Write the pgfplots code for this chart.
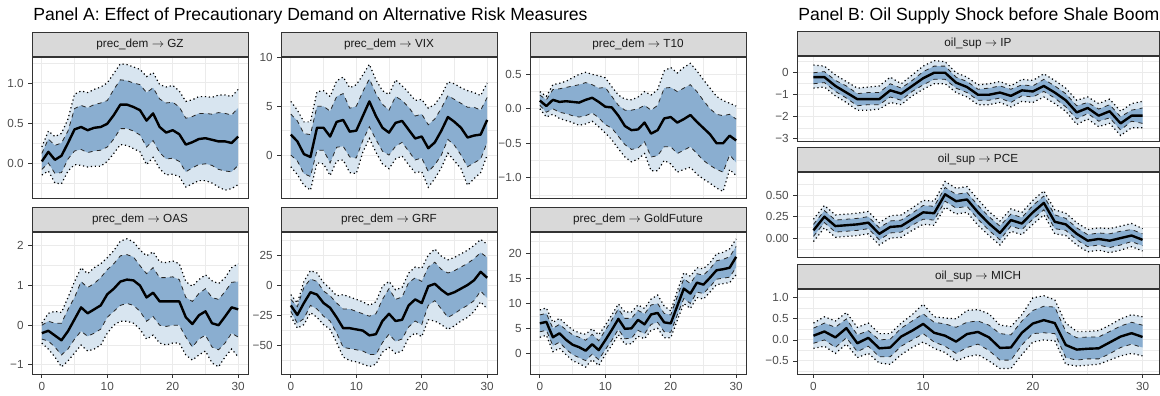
\documentclass[border=0pt]{standalone}
\usepackage{fontspec}
\setmainfont{Liberation Sans}
\usepackage{pgfplots}
\pgfplotsset{compat=1.18}
\usepackage{pgfplotstable}
\usepgfplotslibrary{fillbetween}

\definecolor{gray20}{RGB}{51,51,51}
\definecolor{gray92}{RGB}{235,235,235}
\definecolor{gray85}{RGB}{217,217,217}
\definecolor{gray30}{RGB}{77,77,77}
\definecolor{gray10}{RGB}{26,26,26}
\definecolor{outerblue}{RGB}{216,229,240}
\definecolor{innerblue}{RGB}{138,174,208}

\pgfplotstableread{
t l90 l68 m u68 u90
0 -0.15 -0.08 0.02 0.12 0.20
1 -0.10 0.00 0.14 0.30 0.40
2 -0.25 -0.13 0.04 0.22 0.33
3 -0.26 -0.12 0.09 0.25 0.37
4 -0.10 0.05 0.25 0.40 0.55
5 -0.02 0.15 0.42 0.68 0.86
6 -0.03 0.17 0.45 0.72 0.90
7 -0.05 0.13 0.41 0.69 0.88
8 -0.04 0.15 0.44 0.73 0.92
9 -0.04 0.16 0.45 0.75 0.95
10 0.02 0.20 0.49 0.78 1.00
11 0.12 0.30 0.60 0.92 1.12
12 0.23 0.43 0.73 1.04 1.24
13 0.22 0.43 0.73 1.03 1.23
14 0.18 0.40 0.70 1.00 1.20
15 0.14 0.35 0.66 0.98 1.17
16 -0.02 0.20 0.53 0.88 1.08
17 0.07 0.28 0.62 0.94 1.13
18 -0.07 0.13 0.45 0.80 0.98
19 -0.15 0.05 0.38 0.75 0.95
20 -0.14 0.06 0.41 0.76 0.97
21 -0.17 0.02 0.36 0.70 0.90
22 -0.30 -0.11 0.23 0.56 0.77
23 -0.26 -0.06 0.26 0.58 0.79
24 -0.22 -0.02 0.30 0.62 0.83
25 -0.22 -0.01 0.31 0.62 0.83
26 -0.25 -0.03 0.29 0.61 0.82
27 -0.30 -0.08 0.27 0.63 0.85
28 -0.34 -0.10 0.27 0.62 0.85
29 -0.32 -0.11 0.25 0.60 0.83
30 -0.27 -0.03 0.33 0.69 0.92
}\gz

\pgfplotstableread{
t l90 l68 m u68 u90
0 -1.2 0.0 2.1 4.2 5.5
1 -2.0 -0.6 1.4 3.5 4.6
2 -3.1 -1.9 0.1 2.2 3.4
3 -3.6 -2.2 -0.2 2.1 3.4
4 -0.8 0.5 2.8 5.0 6.5
5 -0.9 0.5 2.8 5.0 6.6
6 -2.1 -0.8 1.9 4.5 6.0
7 -0.6 0.8 3.4 6.0 7.6
8 -0.5 0.9 3.6 6.3 8.0
9 -1.8 -0.2 2.4 4.8 6.9
10 -1.9 -0.3 2.5 5.0 7.2
11 0.3 1.5 4.0 6.5 8.2
12 1.7 2.9 5.5 7.8 9.3
13 0.3 1.6 4.0 6.3 7.7
14 -0.9 0.4 2.8 5.2 6.6
15 -1.4 0.0 2.3 4.6 6.2
16 -0.4 0.9 3.3 6.0 7.7
17 -0.1 1.3 3.5 5.6 7.1
18 -1.0 0.4 2.6 4.9 6.4
19 -1.8 -0.5 1.7 4.0 5.6
20 -1.7 -0.3 1.9 4.2 5.7
21 -3.3 -1.7 0.7 3.1 4.8
22 -2.4 -1.0 1.3 3.7 5.2
23 -1.3 0.0 2.5 4.8 6.1
24 0.2 1.6 3.9 6.1 7.5
25 -0.6 1.0 3.4 5.7 7.3
26 -1.4 0.0 2.8 5.3 6.9
27 -3.1 -1.2 1.8 4.9 6.6
28 -2.4 -0.8 2.0 4.9 6.4
29 -1.8 -0.4 2.1 4.6 6.1
30 0.0 1.3 3.6 5.9 7.4
}\vix

\pgfplotstableread{
t l90 l68 m u68 u90
0 0.00 0.05 0.12 0.20 0.25
1 -0.12 -0.05 0.04 0.13 0.18
2 -0.08 0.00 0.13 0.28 0.35
3 -0.14 -0.05 0.10 0.29 0.37
4 -0.17 -0.07 0.11 0.31 0.40
5 -0.20 -0.10 0.10 0.33 0.45
6 -0.24 -0.12 0.09 0.35 0.50
7 -0.22 -0.10 0.13 0.38 0.53
8 -0.18 -0.06 0.16 0.35 0.50
9 -0.26 -0.13 0.10 0.30 0.48
10 -0.35 -0.23 0.03 0.31 0.45
11 -0.45 -0.28 0.02 0.18 0.32
12 -0.58 -0.40 -0.10 0.05 0.20
13 -0.70 -0.52 -0.25 -0.02 0.14
14 -0.77 -0.59 -0.31 -0.02 0.13
15 -0.73 -0.57 -0.30 0.00 0.17
16 -0.65 -0.48 -0.20 0.05 0.25
17 -0.90 -0.70 -0.36 -0.02 0.20
18 -0.90 -0.68 -0.31 0.05 0.28
19 -0.75 -0.55 -0.14 0.30 0.55
20 -0.80 -0.55 -0.12 0.31 0.60
21 -0.92 -0.65 -0.20 0.25 0.52
22 -0.88 -0.60 -0.15 0.30 0.60
23 -0.85 -0.55 -0.09 0.35 0.66
24 -0.95 -0.65 -0.19 0.25 0.55
25 -1.02 -0.75 -0.28 0.12 0.42
26 -1.08 -0.82 -0.37 0.00 0.30
27 -1.15 -0.88 -0.50 -0.08 0.18
28 -1.20 -0.92 -0.50 -0.10 0.12
29 -0.88 -0.67 -0.39 -0.08 0.08
30 -0.97 -0.78 -0.46 -0.15 0.04
}\tten

\pgfplotstableread{
t l90 l68 m u68 u90
0 -0.45 -0.35 -0.20 0.00 0.05
1 -0.60 -0.40 -0.14 0.10 0.30
2 -0.80 -0.55 -0.26 0.05 0.35
3 -1.05 -0.75 -0.38 0.05 0.32
4 -0.90 -0.60 -0.15 0.40 0.70
5 -0.70 -0.35 0.15 0.70 1.10
6 -0.50 -0.15 0.45 1.10 1.45
7 -0.65 -0.28 0.30 0.95 1.30
8 -0.60 -0.20 0.40 1.05 1.45
9 -0.50 -0.10 0.50 1.20 1.55
10 -0.20 0.20 0.78 1.40 1.70
11 0.00 0.35 0.92 1.55 1.88
12 0.10 0.50 1.10 1.75 2.12
13 0.10 0.55 1.15 1.78 2.18
14 0.05 0.50 1.13 1.72 2.10
15 -0.10 0.35 1.00 1.50 1.90
16 -0.35 0.10 0.70 1.30 1.75
17 -0.25 0.22 0.82 1.45 1.85
18 -0.45 0.00 0.60 1.20 1.60
19 -0.50 -0.03 0.60 1.20 1.58
20 -0.45 0.00 0.60 1.22 1.62
21 -0.45 0.00 0.60 1.15 1.55
22 -0.75 -0.30 0.20 0.70 1.10
23 -0.88 -0.55 0.03 0.60 0.98
24 -0.75 -0.35 0.25 0.80 1.15
25 -0.65 -0.25 0.35 0.92 1.27
26 -0.95 -0.55 0.05 0.70 1.12
27 -1.05 -0.62 0.00 0.65 1.05
28 -0.80 -0.45 0.22 0.85 1.20
29 -0.60 -0.20 0.45 1.08 1.45
30 -0.80 -0.30 0.40 1.10 1.55
}\oas

\pgfplotstableread{
t l90 l68 m u68 u90
0 -26 -22 -17 -12 -8
1 -36 -32 -25 -18 -15
2 -33 -28 -15 -2 3
3 -23 -17 -6 5 12
4 -27 -20 -8 3 10
5 -33 -26 -15 -5 2
6 -37 -30 -19 -9 -3
7 -48 -40 -27 -15 -9
8 -60 -52 -36 -20 -8
9 -63 -53 -36 -20 -10
10 -64 -54 -37 -22 -12
11 -66 -55 -38 -24 -14
12 -68 -58 -42 -26 -17
13 -66 -58 -41 -24 -14
14 -56 -48 -30 -12 -1
15 -52 -41 -24 -3 3
16 -57 -47 -30 -12 -4
17 -55 -45 -29 -10 -2
18 -44 -35 -17 2 10
19 -40 -30 -12 6 15
20 -43 -33 -15 3 14
21 -29 -17 -1 15 25
22 -30 -13 1 19 30
23 -33 -20 -4 13 24
24 -37 -27 -8 10 21
25 -34 -24 -6 12 23
26 -30 -20 -3 15 26
27 -27 -17 0 18 29
28 -22 -13 4 22 33
29 -14 -5 11 27 38
30 -20 -11 6 23 34
}\grf

\pgfplotstableread{
t l90 l68 m u68 u90
0 3.2 4.3 6.0 7.7 8.7
1 3.6 4.6 6.3 8.0 9.1
2 0.3 1.5 3.2 5.0 6.2
3 1.0 2.2 4.0 5.8 7.0
4 -0.3 0.8 2.7 4.7 5.8
5 -1.5 -0.3 1.7 3.7 4.7
6 -2.1 -0.9 1.2 3.2 4.1
7 -2.8 -1.5 0.5 2.6 3.8
8 -1.3 -0.2 1.8 3.8 4.9
9 -2.5 -1.3 0.6 2.5 3.7
10 -0.3 0.7 2.6 4.6 5.6
11 1.6 2.6 4.7 6.7 7.7
12 3.7 4.8 6.9 8.9 9.9
13 1.8 2.9 4.9 7.0 8.3
14 1.9 3.0 5.0 7.0 8.3
15 3.4 4.6 6.7 8.6 9.7
16 2.9 3.9 5.8 7.9 9.0
17 4.6 5.8 7.8 9.7 10.9
18 5.0 6.2 8.1 10.0 11.7
19 3.1 4.3 6.2 8.0 9.5
20 3.1 4.2 6.0 7.7 8.5
21 6.6 7.7 9.5 11.4 12.5
22 10.0 11.0 13.0 15.0 16.2
23 9.0 10.0 12.0 14.0 15.5
24 11.2 12.3 14.2 16.0 17.2
25 10.9 12.0 13.8 15.7 17.0
26 12.3 13.4 15.2 17.0 18.2
27 13.8 14.9 16.7 18.6 20.0
28 14.0 15.1 16.9 18.9 20.3
29 14.2 15.3 17.2 19.4 21.0
30 15.8 17.3 19.4 21.5 23.0
}\gold

\pgfplotstableread{
t l90 l68 m u68 u90
0 -0.70 -0.50 -0.20 0.00 0.35
1 -0.65 -0.45 -0.20 0.05 0.30
2 -1.05 -0.85 -0.60 -0.35 -0.10
3 -1.35 -1.15 -0.90 -0.60 -0.40
4 -1.70 -1.50 -1.20 -0.95 -0.70
5 -1.70 -1.45 -1.20 -0.90 -0.65
6 -1.65 -1.45 -1.20 -0.90 -0.60
7 -1.35 -1.10 -0.80 -0.50 -0.20
8 -1.45 -1.25 -0.95 -0.70 -0.50
9 -1.05 -0.85 -0.60 -0.35 -0.10
10 -0.75 -0.55 -0.25 0.05 0.30
11 -0.50 -0.30 0.00 0.30 0.55
12 -0.50 -0.30 0.00 0.30 0.50
13 -0.90 -0.70 -0.45 -0.20 0.00
14 -1.10 -0.90 -0.65 -0.40 -0.20
15 -1.45 -1.25 -1.00 -0.75 -0.55
16 -1.45 -1.25 -1.00 -0.70 -0.50
17 -1.35 -1.15 -0.90 -0.60 -0.40
18 -1.55 -1.35 -1.05 -0.75 -0.60
19 -1.30 -1.05 -0.80 -0.55 -0.30
20 -1.35 -1.10 -0.85 -0.60 -0.35
21 -1.10 -0.85 -0.60 -0.30 -0.05
22 -1.40 -1.15 -0.90 -0.60 -0.35
23 -1.75 -1.55 -1.25 -0.95 -0.70
24 -2.35 -2.10 -1.80 -1.50 -1.25
25 -2.10 -1.85 -1.60 -1.35 -1.10
26 -2.45 -2.20 -1.95 -1.65 -1.40
27 -2.30 -2.05 -1.75 -1.45 -1.20
28 -2.85 -2.60 -2.30 -2.00 -1.75
29 -2.50 -2.20 -1.95 -1.70 -1.40
30 -2.50 -2.30 -1.95 -1.60 -1.30
}\ip

\pgfplotstableread{
t l90 l68 m u68 u90
0 -0.04 0.02 0.09 0.16 0.22
1 0.12 0.18 0.25 0.32 0.38
2 0.01 0.07 0.14 0.21 0.27
3 0.02 0.08 0.15 0.22 0.28
4 0.03 0.09 0.16 0.23 0.29
5 0.05 0.11 0.18 0.25 0.31
6 -0.08 -0.02 0.05 0.12 0.18
7 0.00 0.06 0.13 0.20 0.26
8 0.01 0.07 0.14 0.21 0.27
9 0.09 0.15 0.22 0.29 0.35
10 0.16 0.22 0.30 0.38 0.44
11 0.15 0.21 0.29 0.37 0.43
12 0.36 0.43 0.51 0.59 0.66
13 0.28 0.35 0.43 0.51 0.58
14 0.30 0.37 0.45 0.53 0.60
15 0.15 0.22 0.30 0.38 0.45
16 0.03 0.09 0.17 0.25 0.31
17 -0.08 -0.02 0.06 0.14 0.20
18 0.08 0.14 0.21 0.28 0.34
19 0.04 0.10 0.17 0.24 0.30
20 0.16 0.22 0.30 0.38 0.44
21 0.27 0.33 0.41 0.49 0.55
22 0.05 0.11 0.19 0.27 0.33
23 0.03 0.09 0.16 0.23 0.29
24 -0.08 -0.02 0.05 0.12 0.18
25 -0.16 -0.10 -0.03 0.04 0.10
26 -0.14 -0.08 -0.01 0.06 0.12
27 -0.17 -0.11 -0.03 0.05 0.11
28 -0.14 -0.08 0.00 0.08 0.14
29 -0.10 -0.04 0.03 0.10 0.17
30 -0.15 -0.09 -0.02 0.05 0.11
}\pce

\pgfplotstableread{
t l90 l68 m u68 u90
0 -0.20 -0.08 0.10 0.28 0.40
1 -0.15 0.00 0.20 0.40 0.55
2 -0.32 -0.18 0.06 0.30 0.45
3 -0.10 0.05 0.28 0.50 0.65
4 -0.42 -0.28 -0.08 0.12 0.30
5 -0.32 -0.15 0.05 0.22 0.40
6 -0.55 -0.40 -0.20 0.00 0.15
7 -0.58 -0.40 -0.18 0.02 0.15
8 -0.35 -0.15 0.08 0.28 0.40
9 -0.18 0.00 0.22 0.45 0.60
10 -0.05 0.15 0.38 0.62 0.85
11 -0.20 -0.05 0.17 0.42 0.55
12 -0.30 -0.15 0.10 0.38 0.52
13 -0.50 -0.32 -0.04 0.30 0.50
14 -0.40 -0.18 0.14 0.42 0.70
15 -0.35 -0.10 0.19 0.45 0.72
16 -0.50 -0.25 0.06 0.35 0.62
17 -0.68 -0.48 -0.19 0.15 0.35
18 -0.68 -0.48 -0.18 0.12 0.32
19 -0.35 -0.12 0.17 0.45 0.60
20 -0.05 0.15 0.39 0.70 1.00
21 0.00 0.17 0.47 0.80 1.05
22 -0.02 0.15 0.40 0.78 0.95
23 -0.58 -0.42 -0.12 0.20 0.40
24 -0.62 -0.48 -0.23 0.05 0.20
25 -0.60 -0.45 -0.21 0.07 0.20
26 -0.58 -0.45 -0.20 0.07 0.22
27 -0.48 -0.33 -0.06 0.20 0.35
28 -0.38 -0.18 0.08 0.33 0.50
29 -0.32 -0.10 0.16 0.42 0.60
30 -0.38 -0.18 0.07 0.35 0.55
}\mich

\pgfplotsset{
  irf/.style={
    scale only axis, anchor=north west,
    xmin=-1.5, xmax=31.5, no markers,
    axis line style={draw=gray20, line width=0.6pt},
    xtick={0,10,20,30}, minor xtick={5,15,25},
    grid=both,
    major grid style={draw=gray92, line width=0.75pt},
    minor grid style={draw=gray92, line width=0.4pt},
    tick align=outside, major tick length=2.75pt, minor tick length=0pt,
    tick style={draw=gray20, line width=0.6pt},
    xtick pos=left, ytick pos=left,
    ticklabel style={font=\fontsize{8.8}{10}\selectfont, text=gray30},
    every axis title shift=0pt,
    title style={at={(0.5,1)}, anchor=south, yshift=0pt, draw=gray20, fill=gray85,
      line width=0.6pt, minimum height=18.4pt, inner sep=0pt,
      font=\fontsize{8.8}{10}\selectfont, text=gray10},
  },
  colA/.style={width=162pt, title style={minimum width=162pt}},
  colB/.style={width=271.5pt, title style={minimum width=271.5pt}},
  notx/.style={xticklabels={}, xtick style={draw=none}},
  withx/.style={xticklabels={0,10,20,30}},
  dotl/.style={black, line width=0.9pt, dash pattern=on 0.9pt off 2.1pt},
  dashl/.style={black!85, line width=0.6pt, dash pattern=on 3.2pt off 3.2pt},
  meanl/.style={black, line width=1.8pt, line join=round},
  outerb/.style={fill=outerblue, draw=none},
  innerb/.style={fill=innerblue, draw=none},
}

\newcommand{\irfplots}[1]{%
  \addplot[name path=uu, dotl] table[x=t,y=u90]{#1};
  \addplot[name path=ll, dotl] table[x=t,y=l90]{#1};
  \addplot[name path=um, dashl] table[x=t,y=u68]{#1};
  \addplot[name path=lm, dashl] table[x=t,y=l68]{#1};
  \addplot[outerb] fill between[of=uu and ll];
  \addplot[innerb] fill between[of=um and lm];
  \addplot[meanl] table[x=t,y=m]{#1};
}

\begin{document}
\begin{tikzpicture}
\path (0,0) rectangle (870pt,-295.5pt);

\node[anchor=base west, inner sep=0pt, font=\fontsize{13.2}{15}\selectfont] at (24.75pt,-15.7pt)
  {Panel A: Effect of Precautionary Demand on Alternative Risk Measures};
\node[anchor=base west, inner sep=0pt, font=\fontsize{13.2}{15}\selectfont] at (598.5pt,-15.7pt)
  {Panel B: Oil Supply Shock before Shale Boom};

% Row 1
\begin{axis}[irf, colA, notx, at={(24pt,-42.75pt)}, height=105.75pt,
  ymin=-0.4375, ymax=1.325, ytick={0,0.5,1}, yticklabels={0.0,0.5,1.0},
  minor ytick={-0.25,0.25,0.75,1.25},
  title={prec\_dem $\rightarrow$ GZ}]
\irfplots{\gz}
\end{axis}

\begin{axis}[irf, colA, notx, at={(210.75pt,-42.75pt)}, height=105.75pt,
  ymin=-4.4, ymax=10.05, ytick={0,5,10}, yticklabels={0,5,10},
  minor ytick={-2.5,2.5,7.5},
  title={prec\_dem $\rightarrow$ VIX}]
\irfplots{\vix}
\end{axis}

\begin{axis}[irf, colA, notx, at={(397.5pt,-42.75pt)}, height=105.75pt,
  ymin=-1.295, ymax=0.752, ytick={-1,-0.5,0,0.5}, yticklabels={−1.0,−0.5,0.0,0.5},
  minor ytick={-1.25,-0.75,-0.25,0.25,0.75},
  title={prec\_dem $\rightarrow$ T10}]
\irfplots{\tten}
\end{axis}

% Row 2
\begin{axis}[irf, colA, withx, at={(24pt,-174pt)}, height=106.5pt,
  ymin=-1.23, ymax=2.35, ytick={-1,0,1,2}, yticklabels={−1,0,1,2},
  minor ytick={-0.5,0.5,1.5},
  title={prec\_dem $\rightarrow$ OAS}]
\irfplots{\oas}
\end{axis}

\begin{axis}[irf, colA, withx, at={(210.75pt,-174pt)}, height=106.5pt,
  ymin=-74.2, ymax=44.2, ytick={-50,-25,0,25}, yticklabels={−50,−25,0,25},
  minor ytick={-62.5,-37.5,-12.5,12.5,37.5},
  title={prec\_dem $\rightarrow$ GRF}]
\irfplots{\grf}
\end{axis}

\begin{axis}[irf, colA, withx, at={(397.5pt,-174pt)}, height=106.5pt,
  ymin=-4.2, ymax=24.4, ytick={0,5,10,15,20}, yticklabels={0,5,10,15,20},
  minor ytick={-2.5,2.5,7.5,12.5,17.5,22.5},
  title={prec\_dem $\rightarrow$ GoldFuture}]
\irfplots{\gold}
\end{axis}

% Panel B
\begin{axis}[irf, colB, notx, at={(597.75pt,-42pt)}, height=63.75pt,
  ymin=-3.1, ymax=0.76, ytick={-3,-2,-1,0}, yticklabels={−3,−2,−1,0},
  minor ytick={-2.5,-1.5,-0.5,0.5},
  title={oil\_sup $\rightarrow$ IP}]
\irfplots{\ip}
\end{axis}

\begin{axis}[irf, colB, notx, at={(597.75pt,-129pt)}, height=63.75pt,
  ymin=-0.22, ymax=0.77, ytick={0,0.25,0.5}, yticklabels={0.00,0.25,0.50},
  minor ytick={-0.125,0.125,0.375,0.625},
  title={oil\_sup $\rightarrow$ PCE}]
\irfplots{\pce}
\end{axis}

\begin{axis}[irf, colB, withx, at={(597.75pt,-216.75pt)}, height=63.75pt,
  ymin=-0.81, ymax=1.21, ytick={-0.5,0,0.5,1}, yticklabels={−0.5,0.0,0.5,1.0},
  minor ytick={-0.75,-0.25,0.25,0.75},
  title={oil\_sup $\rightarrow$ MICH}]
\irfplots{\mich}
\end{axis}

\end{tikzpicture}
\end{document}
